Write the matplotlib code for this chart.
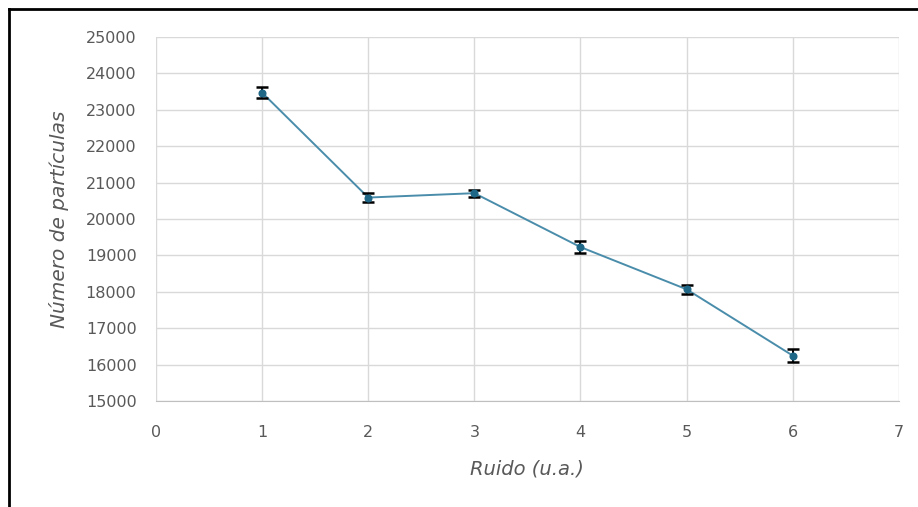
import matplotlib
matplotlib.use('Agg')
import matplotlib.pyplot as plt
from matplotlib.lines import Line2D

# noise level vs. detected particle count
ruido = [1, 2, 3, 4, 5, 6]
particulas = [23470, 20590, 20710, 19230, 18070, 16250]
error = [150, 130, 100, 160, 130, 190]

plt.rcParams['font.family'] = ['DejaVu Sans']

fig = plt.figure(figsize=(9.18, 5.07), dpi=100)
ax = fig.add_axes([0.170, 0.209, 0.809, 0.718])

ax.plot(ruido, particulas, color='#4a8dab', lw=1.4, zorder=3)
ax.errorbar(ruido, particulas, yerr=error, fmt='none', ecolor='black',
            elinewidth=1.4, capsize=4, capthick=1.8, zorder=4)
ax.plot(ruido, particulas, 'o', color='#1f6787', ms=4.8, zorder=5)

ax.set_xlim(0, 7)
ax.set_ylim(15000, 25000)
ax.set_xticks(range(0, 8))
ax.set_yticks(range(15000, 25001, 1000))
ax.grid(True, color='#d9d9d9', lw=1)
ax.set_axisbelow(True)
for side in ['top', 'right', 'left']:
    ax.spines[side].set_visible(False)
ax.spines['bottom'].set_color('#bfbfbf')
ax.tick_params(length=0, labelsize=11.5, colors='#595959')
ax.tick_params(axis='x', pad=17)
ax.tick_params(axis='y', pad=14)

ax.set_xlabel('Ruido (u.a.)', style='italic', fontsize=14, color='#595959', labelpad=14)
ax.set_ylabel('Número de partículas', style='italic', fontsize=14.5, color='#595959', labelpad=12)

# frame lines along top and left edges
fig.add_artist(Line2D([9 / 918, 1], [1 - 9 / 507, 1 - 9 / 507], color='black', lw=2,
                      transform=fig.transFigure))
fig.add_artist(Line2D([9 / 918, 9 / 918], [0, 1 - 9 / 507], color='black', lw=2,
                      transform=fig.transFigure))

fig.savefig('out.png', dpi=100)
